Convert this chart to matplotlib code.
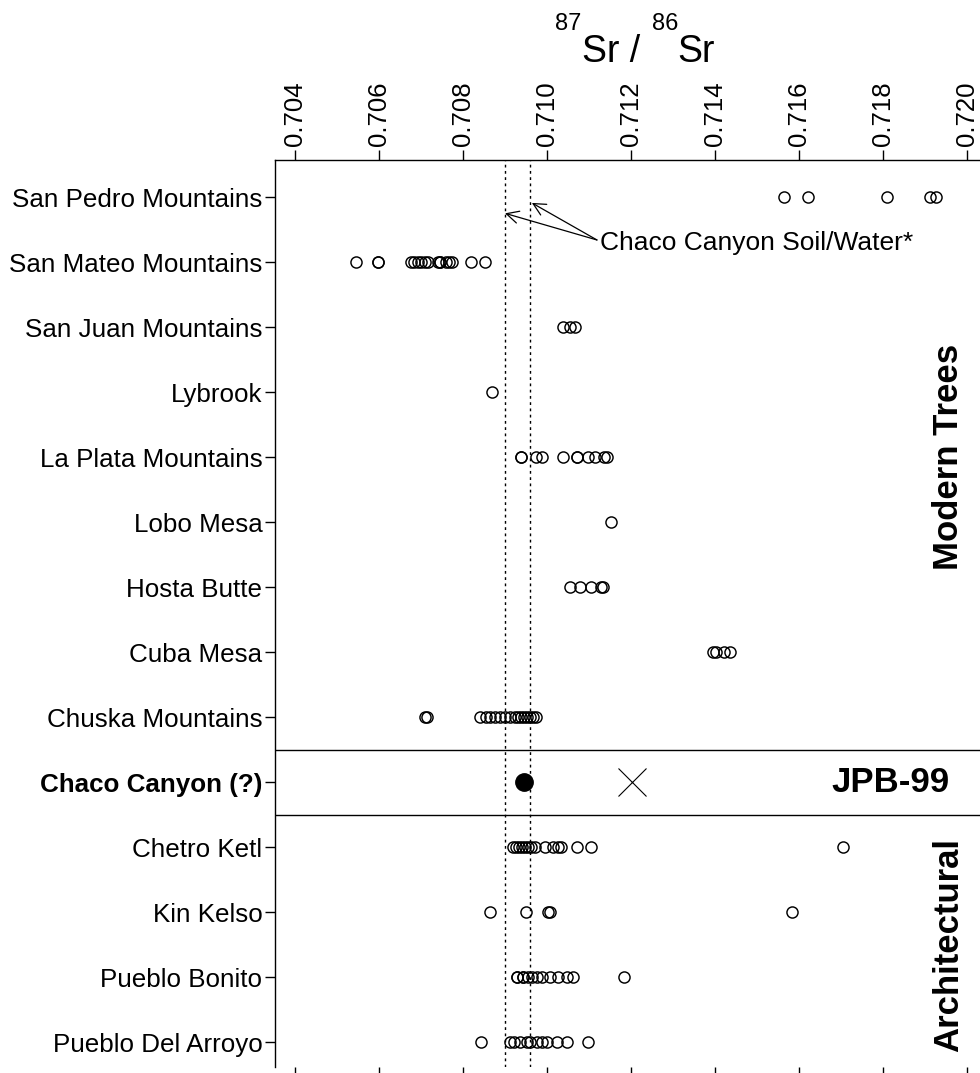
import matplotlib
matplotlib.use("Agg")
import matplotlib.pyplot as plt

plt.rcParams['font.family'] = ['Liberation Sans', 'DejaVu Sans']

# sites, top to bottom
sites = ["San Pedro Mountains", "San Mateo Mountains", "San Juan Mountains",
         "Lybrook", "La Plata Mountains", "Lobo Mesa", "Hosta Butte",
         "Cuba Mesa", "Chuska Mountains", "Chaco Canyon (?)", "Chetro Ketl",
         "Kin Kelso", "Pueblo Bonito", "Pueblo Del Arroyo"]

san_pedro = [0.71564, 0.71621, 0.71810, 0.71912, 0.71926]
san_mateo = [0.70545, 0.70598, 0.70598, 0.70676, 0.70683, 0.70693, 0.70700,
             0.70710, 0.70717, 0.70740, 0.70745, 0.70745, 0.70760, 0.70767,
             0.70774, 0.70819, 0.70852]
san_juan = [0.71038, 0.71055, 0.71067]
lybrook = [0.70869]
la_plata = [0.70937, 0.70937, 0.70975, 0.70987, 0.71039, 0.71072, 0.71072,
            0.71098, 0.71114, 0.71136, 0.71142]
lobo_mesa = [0.71152]
hosta_butte = [0.71055, 0.71079, 0.71105, 0.71129, 0.71133]
cuba_mesa = [0.71395, 0.71402, 0.71421, 0.71436]
chuska = [0.70710, 0.70714, 0.70840, 0.70855, 0.70864, 0.70876, 0.70888,
          0.70900, 0.70912, 0.70924, 0.70931, 0.70938, 0.70945, 0.70952,
          0.70960, 0.70967, 0.70974]
chetro_ketl = [0.70919, 0.70926, 0.70933, 0.70940, 0.70948, 0.70955, 0.70962,
               0.70971, 0.70995, 0.71014, 0.71026, 0.71033, 0.71071, 0.71105,
               0.71705]
kin_kelso = [0.70864, 0.70950, 0.71002, 0.71007, 0.71583]
pueblo_bonito = [0.70929, 0.70929, 0.70943, 0.70943, 0.70955, 0.70964,
                 0.70976, 0.70988, 0.71007, 0.71026, 0.71048, 0.71062, 0.71183]
pueblo_del_arroyo = [0.70843, 0.70912, 0.70921, 0.70936, 0.70952, 0.70960,
                     0.70976, 0.70988, 0.71000, 0.71024, 0.71048, 0.71098]

jpb99_value = 0.70945
jpb99_alt = 0.71202
soil_water = [0.7090, 0.7096]

tree_groups = [san_pedro, san_mateo, san_juan, lybrook, la_plata, lobo_mesa,
               hosta_butte, cuba_mesa, chuska]
arch_groups = [chetro_ketl, kin_kelso, pueblo_bonito, pueblo_del_arroyo]

xticks = [0.704, 0.706, 0.708, 0.710, 0.712, 0.714, 0.716, 0.718, 0.720]

n = len(sites)
ypos = {s: n - i for i, s in enumerate(sites)}

W, H = 980, 1073
fig = plt.figure(figsize=(W / 100, H / 100), dpi=100)
ax = fig.add_axes([275 / W, 1 - 1067 / H, 1 - 275 / W, (1067 - 160) / H])

circ = dict(marker='o', linestyle='none', markerfacecolor='none',
            markeredgecolor='black', markersize=8, markeredgewidth=1.05)

for name, vals in zip(sites[:9], tree_groups):
    ax.plot(vals, [ypos[name]] * len(vals), **circ)
for name, vals in zip(sites[10:], arch_groups):
    ax.plot(vals, [ypos[name]] * len(vals), **circ)

chaco_y = ypos["Chaco Canyon (?)"]
ax.plot([jpb99_value], [chaco_y], marker='o', color='black', markersize=12.5,
        linestyle='none')
ax.plot([jpb99_alt], [chaco_y], marker='x', color='black', markersize=20,
        markeredgewidth=0.8, linestyle='none')

for v in soil_water:
    ax.axvline(v, color='black', linestyle=(0, (2, 2.5)), linewidth=1.0)

ax.axhline(chaco_y + 0.5, color='black', linewidth=1.0)
ax.axhline(chaco_y - 0.5, color='black', linewidth=1.0)

# annotation for the soil / water lines
top_y = ypos["San Pedro Mountains"]
tail = (0.71119, top_y - 0.66)
ax.text(0.71126, top_y - 0.70, "Chaco Canyon Soil/Water*", fontsize=19,
        ha='left', va='center')
arrow = dict(arrowstyle='->', color='black', lw=0.9, shrinkA=0, shrinkB=0,
             mutation_scale=22)
ax.annotate("", xy=(soil_water[0], top_y - 0.25), xytext=tail, arrowprops=arrow)
ax.annotate("", xy=(soil_water[1] + 0.00004, top_y - 0.09), xytext=tail,
            arrowprops=arrow)

ax.text(0.71995, ypos["Lybrook"] - 1.0, "Modern Trees", rotation=90,
        fontsize=25, fontweight='bold', ha='right', va='center')
ax.text(0.71995, ypos["Kin Kelso"] - 0.5, "Architectural", rotation=90,
        fontsize=25, fontweight='bold', ha='right', va='center')
ax.text(0.71817, chaco_y, "JPB-99", fontsize=25, fontweight='bold',
        ha='center', va='center')

ax.set_xlim(0.703524, 0.72031)
ax.set_ylim(0.62, n + 0.57)

ax.set_yticks([ypos[s] for s in sites])
ax.set_yticklabels(sites, fontsize=18.7)
for lab in ax.get_yticklabels():
    if lab.get_text() == "Chaco Canyon (?)":
        lab.set_fontweight('bold')

ax.set_xticks(xticks)
ax.set_xticklabels([f"{t:.3f}" for t in xticks], rotation=90, fontsize=18.5)
ax.tick_params(axis='x', top=True, labeltop=True, bottom=True,
               labelbottom=False, direction='out', length=7, width=1, pad=3)
ax.tick_params(axis='y', direction='out', length=7, width=1, pad=2)

ax.spines['right'].set_visible(False)
ax.spines['bottom'].set_visible(False)
for s in ['top', 'left']:
    ax.spines[s].set_linewidth(1.0)

# title: 87Sr / 86Sr with raised isotope numbers
base = 1 - 62 / H
sup = 1 - 30 / H
fig.text(555 / W, sup, "87", fontsize=17, ha='left', va='baseline')
fig.text(582 / W, base, "Sr /", fontsize=27, ha='left', va='baseline')
fig.text(652 / W, sup, "86", fontsize=17, ha='left', va='baseline')
fig.text(677 / W, base, "Sr", fontsize=27, ha='left', va='baseline')

fig.savefig("out.png", dpi=100)
